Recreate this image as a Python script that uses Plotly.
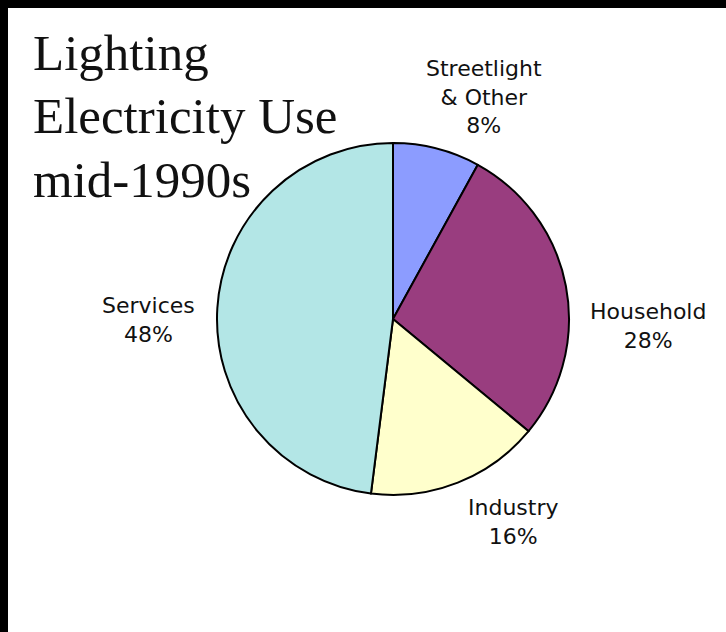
import plotly.graph_objects as go

# Share of lighting electricity use by sector, mid-1990s (percent)
sectors = ["Streetlight & Other", "Household", "Industry", "Services"]
shares = [8, 28, 16, 48]
colors = ["#8c9cff", "#993d7f", "#ffffcc", "#b3e6e6"]

title_lines = ["Lighting", "Electricity Use", "mid-1990s"]

W, H = 726, 632
cx, cy, r = 393, 319, 176  # pie centre and radius in pixels


def px(x):
    return x / W


def py(y):
    return 1 - y / H


fig = go.Figure()
fig.add_trace(go.Pie(
    labels=sectors,
    values=shares,
    sort=False,
    direction="clockwise",
    rotation=0,
    textinfo="none",
    hoverinfo="label+percent",
    marker=dict(colors=colors, line=dict(color="black", width=2)),
    domain=dict(x=[px(cx - r), px(cx + r)], y=[py(cy + r), py(cy - r)]),
    showlegend=False,
))

# sector labels placed around the pie
label_pos = {
    "Streetlight & Other": (484, 97),
    "Household": (648, 326),
    "Industry": (513, 522),
    "Services": (148, 320),
}
annotations = []
for name, val in zip(sectors, shares):
    x, y = label_pos[name]
    text = name.replace(" & ", "<br>& ") + f"<br>{val}%"
    annotations.append(dict(
        x=px(x), y=py(y), xref="paper", yref="paper",
        text=text, showarrow=False, xanchor="center", yanchor="middle",
        font=dict(family="DejaVu Sans", size=22, color="#111111"),
    ))

# three-line serif title, top-left
for i, line in enumerate(title_lines):
    annotations.append(dict(
        x=px(31), y=py(53 + i * 63.5), xref="paper", yref="paper",
        text=line, showarrow=False, xanchor="left", yanchor="middle",
        font=dict(family="Liberation Serif", size=51, color="#111111"),
    ))

fig.update_layout(
    width=W, height=H,
    margin=dict(l=0, r=0, t=0, b=0),
    paper_bgcolor="white",
    plot_bgcolor="white",
    annotations=annotations,
    shapes=[
        # black frame along the top and left edges
        dict(type="rect", xref="paper", yref="paper", x0=0, x1=1,
             y0=py(8), y1=1, fillcolor="black", line=dict(width=0)),
        dict(type="rect", xref="paper", yref="paper", x0=0, x1=px(8),
             y0=0, y1=1, fillcolor="black", line=dict(width=0)),
    ],
)

fig.write_html("out.html")
